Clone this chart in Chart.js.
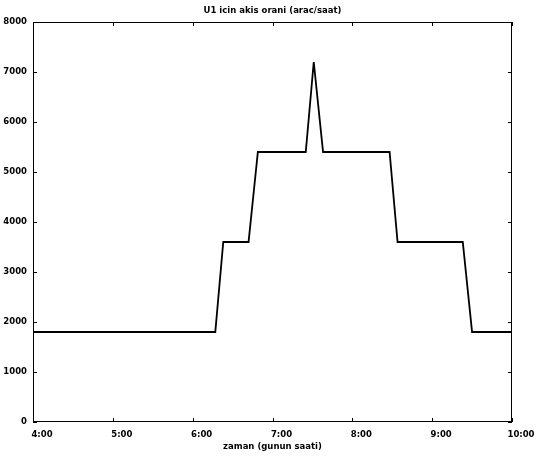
<!DOCTYPE html>
<html>
<head>
<meta charset="utf-8">
<script src="https://cdn.jsdelivr.net/npm/chart.js@4.4.1/dist/chart.umd.min.js"></script>
<style>
  html, body { margin: 0; padding: 0; background: #fff; }
  #wrap { width: 541px; height: 462px; }
</style>
</head>
<body>
<div id="wrap"><canvas id="akisChart"></canvas></div>
<script>
// saat (H:MM) ve akis orani (arac/saat)
const times = ["4:00", "6:17", "6:23", "6:42", "6:49", "7:25", "7:31", "7:38", "8:28", "8:34", "9:23", "9:30", "10:00"];
const flows = [1800, 1800, 3600, 3600, 5400, 5400, 7200, 5400, 5400, 3600, 3600, 1800, 1800];
const yTicks = [0, 1000, 2000, 3000, 4000, 5000, 6000, 7000, 8000];
const xTicks = [4, 5, 6, 7, 8, 9, 10];

function toHours(t) {
  const p = t.split(":");
  return Number(p[0]) + Number(p[1]) / 60;
}

const points = times.map((t, i) => ({ x: toHours(t), y: flows[i] }));

const font = { family: "'DejaVu Sans', sans-serif", size: 8.5, weight: "bold" };

// kutu cercevesi ve ice bakan tik cizgileri
const frame = {
  id: "frame",
  afterDatasetsDraw(chart) {
    const ctx = chart.ctx;
    const a = chart.chartArea;
    const xs = chart.scales.x;
    const ys = chart.scales.y;
    ctx.save();
    ctx.strokeStyle = "#000";
    ctx.lineWidth = 1;
    ctx.strokeRect(a.left + 0.5, a.top + 0.5, a.right - a.left - 1, a.bottom - a.top - 1);
    ctx.beginPath();
    xTicks.forEach((v) => {
      const px = Math.round(xs.getPixelForValue(v)) + 0.5;
      ctx.moveTo(px, a.bottom); ctx.lineTo(px, a.bottom - 4);
      ctx.moveTo(px, a.top); ctx.lineTo(px, a.top + 4);
    });
    yTicks.forEach((v) => {
      const py = Math.round(ys.getPixelForValue(v)) + 0.5;
      ctx.moveTo(a.left, py); ctx.lineTo(a.left + 4, py);
      ctx.moveTo(a.right, py); ctx.lineTo(a.right - 4, py);
    });
    ctx.stroke();
    ctx.restore();
  },
};

const config = {
  type: "line",
  data: {
    datasets: [
      {
        data: points,
        borderColor: "#000",
        borderWidth: 1.8,
        pointRadius: 0,
        tension: 0,
        fill: false,
      },
    ],
  },
  options: {
    responsive: true,
    maintainAspectRatio: false,
    animation: false,
    layout: { padding: { left: 0, right: 29, top: 0, bottom: 10 } },
    plugins: {
      legend: { display: false },
      tooltip: { enabled: false },
    },
    scales: {
      // ust eksen sadece basligi cizim alaninin ortasina koyar
      xt: {
        type: "linear",
        position: "top",
        min: 4,
        max: 10,
        afterFit: (s) => { s.height = 22; },
        grid: { display: false, drawTicks: false },
        border: { display: false },
        ticks: { display: false },
        title: {
          display: true,
          text: "U1 icin akis orani (arac/saat)",
          color: "#000",
          font: font,
          padding: { top: 6, bottom: 0 },
        },
      },
      x: {
        type: "linear",
        position: "bottom",
        min: 4,
        max: 10,
        afterBuildTicks: (s) => { s.ticks = xTicks.map((v) => ({ value: v })); },
        afterFit: (s) => { s.height = 30; },
        grid: { display: false, drawTicks: false },
        border: { display: false },
        ticks: {
          color: "#000",
          font: font,
          padding: 8,
          labelOffset: 9,
          maxRotation: 0,
          callback: (v) => v + ":00",
        },
        title: {
          display: true,
          text: "zaman (gunun saati)",
          color: "#000",
          font: font,
          padding: { top: 0, bottom: 0 },
        },
      },
      y: {
        min: 0,
        max: 8000,
        afterBuildTicks: (s) => { s.ticks = yTicks.map((v) => ({ value: v })); },
        afterFit: (s) => { s.width = 33; },
        grid: { display: false, drawTicks: false },
        border: { display: false },
        ticks: { color: "#000", font: font, padding: 6, callback: (v) => String(v) },
      },
    },
  },
  plugins: [frame],
};

let myChart = new Chart(document.getElementById("akisChart"), config);
</script>
</body>
</html>
